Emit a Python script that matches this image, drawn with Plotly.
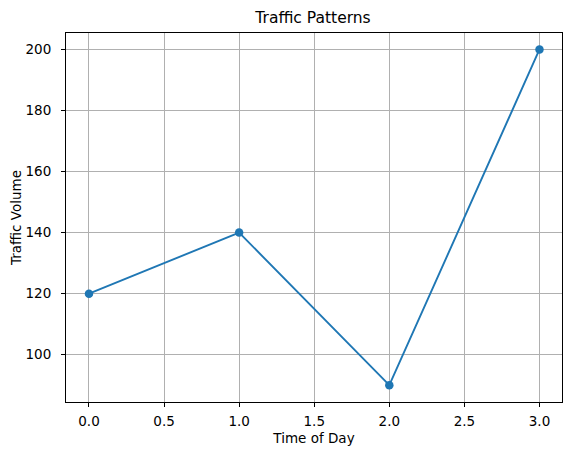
import plotly.graph_objects as go

time_of_day = [0, 1, 2, 3]
traffic_volume = [120, 140, 90, 200]
x_ticks = [0.0, 0.5, 1.0, 1.5, 2.0, 2.5, 3.0]
y_ticks = [100, 120, 140, 160, 180, 200]

fig = go.Figure()
fig.add_trace(go.Scatter(
    x=time_of_day, y=traffic_volume, mode="lines+markers",
    line=dict(color="#1f77b4", width=1.9),
    marker=dict(color="#1f77b4", size=8.5),
    showlegend=False,
))

axis_common = dict(
    showgrid=True, gridcolor="#b0b0b0", gridwidth=0.8,
    showline=True, linecolor="black", linewidth=1, mirror=True,
    ticks="outside", ticklen=4, tickwidth=1, tickcolor="black",
    zeroline=False, automargin=False,
    tickfont=dict(family="DejaVu Sans", size=13.5, color="black"),
)

W, H = 563, 447
fig.update_layout(
    width=W, height=H,
    margin=dict(l=58, r=9, t=25, b=53),
    paper_bgcolor="white", plot_bgcolor="white",
    title=dict(text="Traffic Patterns", x=305 / W, xanchor="center", y=1 - 9.5 / H, yanchor="middle",
               font=dict(family="DejaVu Sans", size=15.5, color="black")),
    xaxis=dict(axis_common, range=[-0.153, 3.15], tickvals=x_ticks,
               ticktext=[f"{v:.1f}" for v in x_ticks], ticklabelstandoff=3,
               title=dict(text="Time of Day", font=dict(family="DejaVu Sans", size=13.5, color="black"), standoff=5)),
    yaxis=dict(axis_common, range=[84.5, 205.4], tickvals=y_ticks, ticklabelstandoff=7,
               title=dict(text="Traffic Volume", font=dict(family="DejaVu Sans", size=13.5, color="black"), standoff=2)),
)

fig.write_html("out.html")
